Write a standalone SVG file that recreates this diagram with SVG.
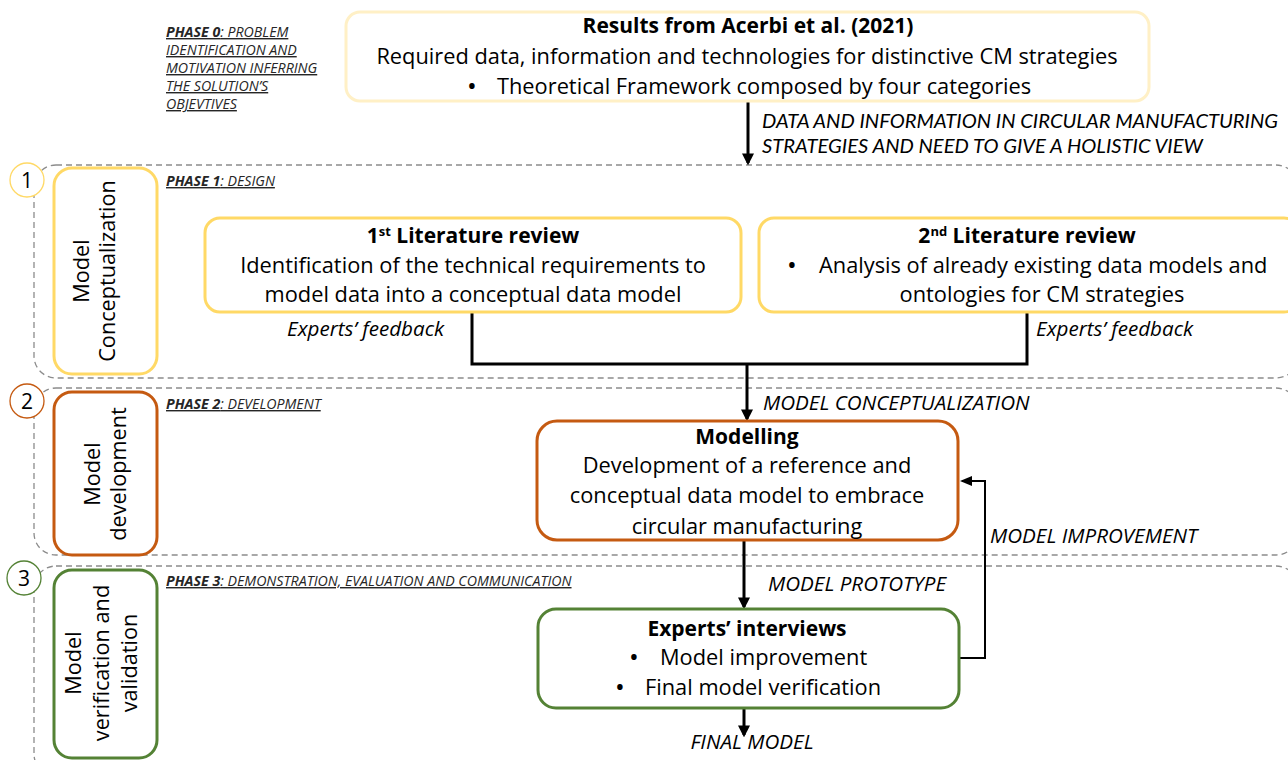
<svg xmlns="http://www.w3.org/2000/svg" width="1288" height="760" viewBox="0 0 1288 760">
<defs>
<style>
text{font-family:"Open Sans",Lato,"Liberation Sans",sans-serif;fill:#000}
.t{font-size:21.8px;text-anchor:middle}
.s{font-size:21.8px;text-anchor:start}
.b{font-weight:bold;font-size:21px}
.bul{font-size:26px;text-anchor:start}
.lab{font-size:20.6px;font-style:italic}
.lab2{font-family:Lato,"Open Sans",sans-serif;font-size:20.2px;font-style:italic}
.ph{font-size:14.2px;font-style:italic;text-decoration:underline;fill:#262626}
.side{font-size:21.7px;text-anchor:middle}
.cont{fill:none;stroke:#8c8c8c;stroke-width:1.3;stroke-dasharray:6 4}
.num{font-size:21px;text-anchor:middle}
.conn{fill:none;stroke:#000;stroke-width:3}
.thin{fill:none;stroke:#000;stroke-width:2}
</style>
<marker id="ah" markerWidth="4" markerHeight="4" refX="3.2" refY="2" orient="auto" markerUnits="strokeWidth">
<path d="M0,0 L4,2 L0,4 z" fill="#000"/>
</marker>
<marker id="ahs" markerWidth="6" markerHeight="6" refX="5" refY="3" orient="auto" markerUnits="strokeWidth">
<path d="M0,0.5 L6,3 L0,5.5 z" fill="#000"/>
</marker>
</defs>
<rect width="1288" height="760" fill="#fff"/>

<g id="containers">
<rect class="cont" x="34" y="165" width="1264" height="213" rx="22"/>
<rect class="cont" x="34" y="388" width="1264" height="167" rx="22"/>
<rect class="cont" x="34" y="566" width="1264" height="210" rx="22"/>
</g>

<g id="phase-circles">
<g id="circle1"><circle cx="27" cy="180" r="17" fill="#fff" stroke="#FFD966" stroke-width="1.3"/><text class="num" x="27" y="188">1</text></g>
<g id="circle2"><circle cx="27" cy="401" r="17" fill="#fff" stroke="#C55A11" stroke-width="1.3"/><text class="num" x="27" y="409">2</text></g>
<g id="circle3"><circle cx="24" cy="578" r="17" fill="#fff" stroke="#548235" stroke-width="1.3"/><text class="num" x="24" y="586">3</text></g>
</g>

<g id="phase-labels">
<text class="ph" x="166" y="37"><tspan font-weight="bold">PHASE 0</tspan>: PROBLEM</text>
<text class="ph" x="166" y="55">IDENTIFICATION AND</text>
<text class="ph" x="166" y="73">MOTIVATION INFERRING</text>
<text class="ph" x="166" y="91">THE SOLUTION’S</text>
<text class="ph" x="166" y="109">OBJEVTIVES</text>
<text class="ph" x="166" y="186"><tspan font-weight="bold">PHASE 1</tspan>: DESIGN</text>
<text class="ph" x="166" y="409"><tspan font-weight="bold">PHASE 2</tspan>: DEVELOPMENT</text>
<text class="ph" x="166" y="586"><tspan font-weight="bold">PHASE 3</tspan>: DEMONSTRATION, EVALUATION AND COMMUNICATION</text>
</g>

<g id="side1">
<rect x="54" y="168" width="103" height="206" rx="18" fill="#fff" stroke="#FFD966" stroke-width="3"/>
<g transform="translate(105,271) rotate(-90)">
<text class="side" x="0" y="-16">Model</text>
<text class="side" x="0" y="10">Conceptualization</text>
</g>
</g>
<g id="side2">
<rect x="54" y="392" width="103" height="163" rx="18" fill="#fff" stroke="#C55A11" stroke-width="3"/>
<g transform="translate(105,474) rotate(-90)">
<text class="side" x="0" y="-5">Model</text>
<text class="side" x="0" y="21">development</text>
</g>
</g>
<g id="side3">
<rect x="54" y="570" width="103" height="188" rx="18" fill="#fff" stroke="#548235" stroke-width="3"/>
<g transform="translate(105,663) rotate(-90)">
<text class="side" x="0" y="-24">Model</text>
<text class="side" x="0" y="4">verification and</text>
<text class="side" x="0" y="32">validation</text>
</g>
</g>

<g id="connectors">
<line class="conn" x1="748" y1="101" x2="748" y2="163" marker-end="url(#ah)"/>
<polyline class="conn" points="472,312 472,364 1027,364 1027,312"/>
<line class="conn" x1="747" y1="364" x2="747" y2="419" marker-end="url(#ah)"/>
<line class="conn" x1="744" y1="540" x2="744" y2="607" marker-end="url(#ah)"/>
<line class="conn" x1="744" y1="708" x2="744" y2="735" marker-end="url(#ah)"/>
<polyline class="thin" points="959,658 985,658 985,481 962,481" marker-end="url(#ahs)"/>
</g>

<g id="connector-labels">
<text class="lab2" x="762" y="128">DATA AND INFORMATION IN CIRCULAR MANUFACTURING</text>
<text class="lab2" x="762" y="153">STRATEGIES AND NEED TO GIVE A HOLISTIC VIEW</text>
<text class="lab" x="287" y="336">Experts’ feedback</text>
<text class="lab" x="1036" y="336">Experts’ feedback</text>
<text class="lab" x="763" y="410">MODEL CONCEPTUALIZATION</text>
<text class="lab" x="768" y="591">MODEL PROTOTYPE</text>
<text class="lab" x="990" y="543">MODEL IMPROVEMENT</text>
<text class="lab" x="752" y="749" text-anchor="middle">FINAL MODEL</text>
</g>

<g id="results">
<rect x="346" y="12" width="803" height="89" rx="14" fill="#fff" stroke="#FFF0C6" stroke-width="3"/>
<text class="t b" x="748" y="33">Results from Acerbi et al. (2021)</text>
<text class="t" x="747" y="64">Required data, information and technologies for distinctive CM strategies</text>
<text class="bul" x="467" y="95">•</text>
<text class="s" x="497" y="94">Theoretical Framework composed by four categories</text>
</g>

<g id="lit1">
<rect x="205" y="218" width="536" height="94" rx="15" fill="#fff" stroke="#FFD966" stroke-width="3"/>
<text class="t b" x="473" y="243">1<tspan dy="-7" font-size="13">st</tspan><tspan dy="7"> Literature review</tspan></text>
<text class="t" x="473" y="273">Identification of the technical requirements to</text>
<text class="t" x="473" y="302">model data into a conceptual data model</text>
</g>

<g id="lit2">
<rect x="759" y="218" width="540" height="94" rx="15" fill="#fff" stroke="#FFD966" stroke-width="3"/>
<text class="t b" x="1027" y="243">2<tspan dy="-7" font-size="13">nd</tspan><tspan dy="7"> Literature review</tspan></text>
<text class="bul" x="787" y="274">•</text>
<text class="s" x="819" y="273">Analysis of already existing data models and</text>
<text class="t" x="1042" y="302">ontologies for CM strategies</text>
</g>

<g id="modelling">
<rect x="537" y="421" width="421" height="119" rx="20" fill="#fff" stroke="#C55A11" stroke-width="3"/>
<text class="t b" x="747" y="444">Modelling</text>
<text class="t" x="747" y="473">Development of a reference and</text>
<text class="t" x="747" y="503">conceptual data model to embrace</text>
<text class="t" x="747" y="534">circular manufacturing</text>
</g>

<g id="interviews">
<rect x="538" y="609" width="421" height="99" rx="18" fill="#fff" stroke="#548235" stroke-width="3"/>
<text class="t b" x="747" y="636">Experts’ interviews</text>
<text class="bul" x="629" y="666">•</text>
<text class="s" x="660" y="665">Model improvement</text>
<text class="bul" x="615" y="696">•</text>
<text class="s" x="645" y="695">Final model verification</text>
</g>
</svg>
